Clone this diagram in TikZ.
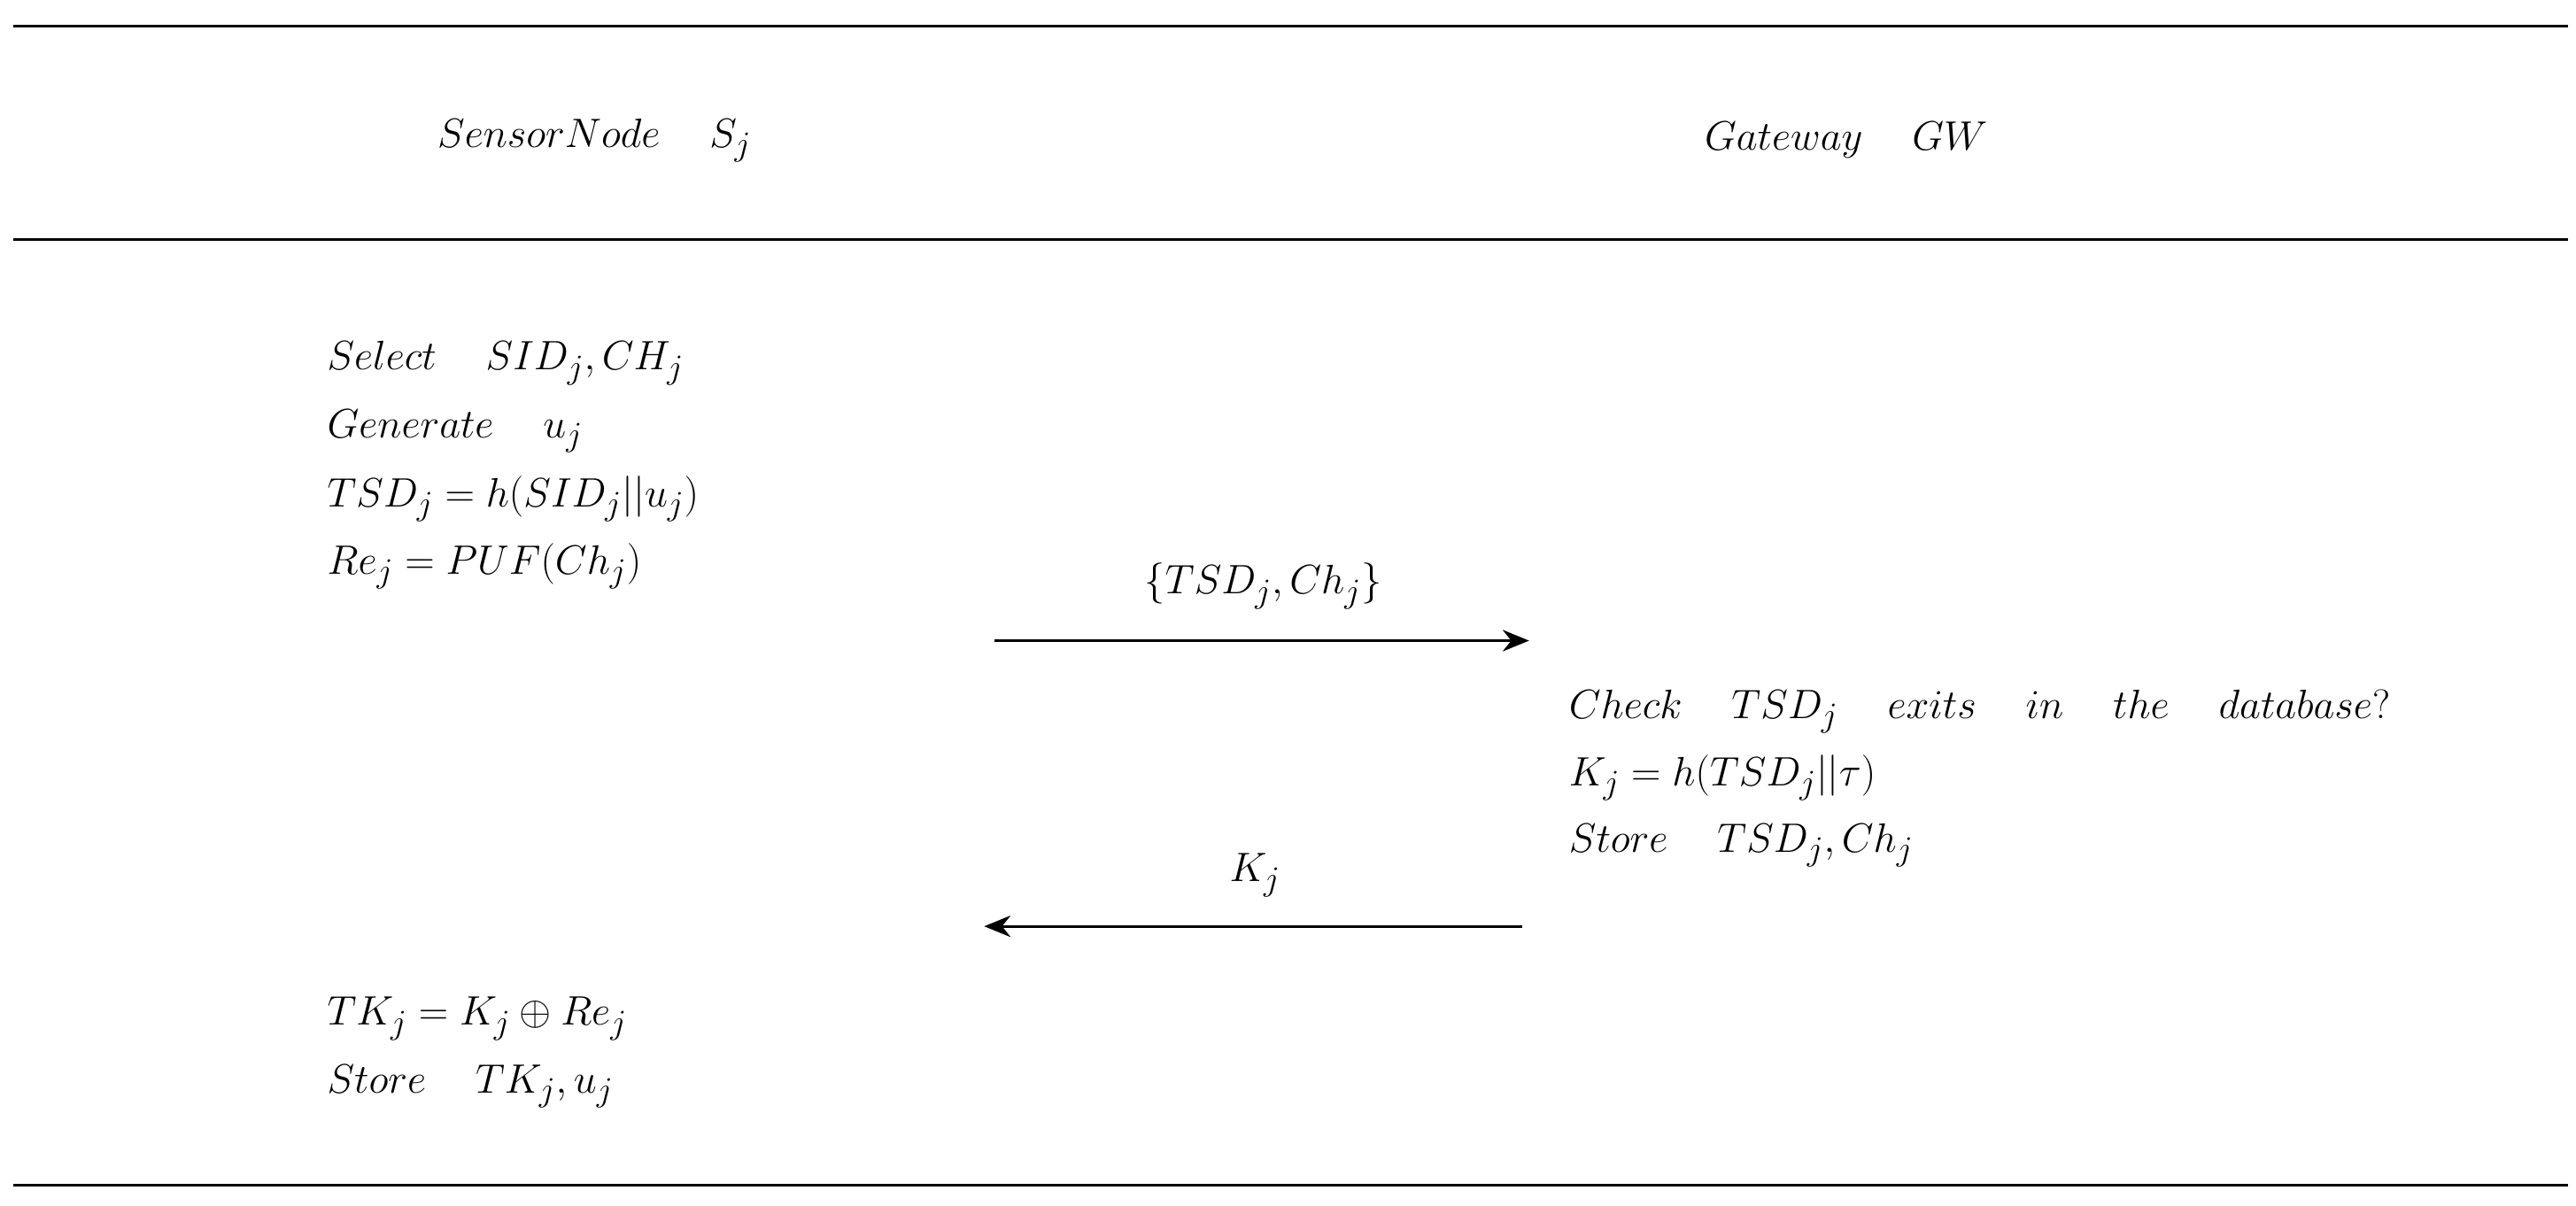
\documentclass[tikz,border=0pt]{standalone}
\usetikzlibrary{arrows.meta}
\begin{document}
\begin{tikzpicture}[x=1pt,y=-1pt,
  txt/.style={anchor=west,inner sep=0pt,font=\fontsize{30}{36}\selectfont},
  hd/.style={inner sep=0pt,font=\fontsize{30}{36}\selectfont},
  rule/.style={line width=1.6pt},
  msg/.style={line width=1.6pt,-{Stealth[length=16pt,width=13pt]}}]
\useasboundingbox (0,0) rectangle (1560,730);
\coordinate (r1a) at (8,16); \coordinate (r1b) at (1555,16);
\coordinate (r2a) at (8,145); \coordinate (r2b) at (1555,145);
\coordinate (r3a) at (8,718); \coordinate (r3b) at (1555,718);
\draw[rule] (r1a)--(r1b); \draw[rule] (r2a)--(r2b); \draw[rule] (r3a)--(r3b);
\node[hd] (hs) at (360,85) {$SensorNode\quad S_j$};
\node[hd] (hg) at (1118,85) {$Gateway\quad GW$};
\node[txt] (l1) at (198,220) {$Select\quad SID_j,CH_j$};
\node[txt] (l2) at (198,261) {$Generate\quad u_j$};
\node[txt] (l3) at (198,302) {$TSD_j=h(SID_j||u_j)$};
\node[txt] (l4) at (198,343) {$Re_j=PUF(Ch_j)$};
\coordinate (a1s) at (602,388); \coordinate (a1e) at (926,388);
\draw[msg] (a1s)--(a1e);
\node[hd] (m1) at (765,355) {$\{TSD_j,Ch_j\}$};
\node[txt] (r1) at (950,431) {$Check\hspace*{30pt}TSD_j\hspace*{30pt}exits\hspace*{30pt}in\hspace*{30pt}the\hspace*{30pt}database?$};
\node[txt] (r2) at (950,471) {$K_j=h(TSD_j||\tau)$};
\node[txt] (r3) at (950,512) {$Store\quad TSD_j,Ch_j$};
\coordinate (a2s) at (922,561); \coordinate (a2e) at (596,561);
\draw[msg] (a2s)--(a2e);
\node[hd] (m2) at (760,530) {$K_j$};
\node[txt] (b1) at (198,617) {$TK_j=K_j\oplus Re_j$};
\node[txt] (b2) at (198,658) {$Store\quad TK_j,u_j$};
\end{tikzpicture}
\end{document}
